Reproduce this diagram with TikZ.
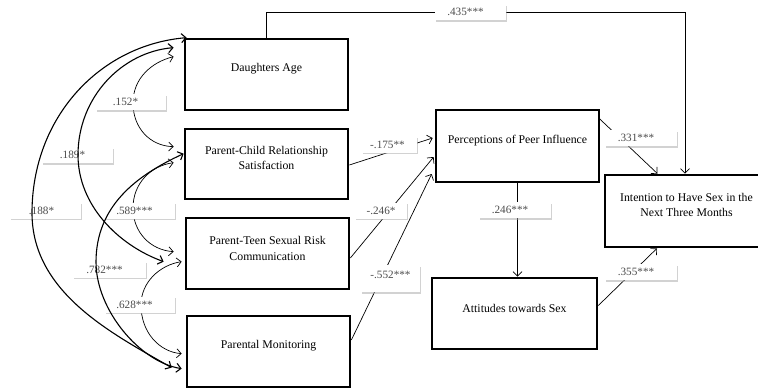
\documentclass[tikz,border=0pt]{standalone}
\usepackage{fontspec}
\setmainfont{Liberation Serif}
\usetikzlibrary{arrows.meta,shadows}
\begin{document}
\begin{tikzpicture}[x=1pt,y=-1pt,
  box/.style={draw, line width=2.7pt, minimum width=163pt, minimum height=71pt, inner sep=0pt},
  btext/.style={font=\fontsize{11.8}{15.5}\selectfont, align=center, inner sep=0pt},
  tip/.tip={Straight Barb[length=4.5pt,width=9pt]},
  conn/.style={line width=0.7pt, -tip},
  corr/.style={line width=0.7pt, tip-tip},
  corrthick/.style={line width=1.1pt, tip-tip},
  lab/.style={fill=white, inner sep=0pt, minimum height=16pt, text=black!70,
    font=\fontsize{11.2}{13}\selectfont,
    drop shadow={shadow xshift=1pt, shadow yshift=-1.5pt, fill=black!35, opacity=0.5}}]
\useasboundingbox (0,0) rectangle (758,391);
\clip (0,0) rectangle (758,391);

% boxes
\node[box] (da) at (266.5,74.5) {};
\node[box, minimum height=70pt] (pc) at (266.5,164) {};
\node[box] (pt) at (267.5,253.5) {};
\node[box] (pm) at (268.5,351.5) {};
\node[box, minimum height=72pt] (pp) at (517.5,146) {};
\node[box, minimum width=165pt] (at) at (514.5,313.5) {};
\node[box, minimum height=72pt] (in) at (686.5,211) {};

\node[btext] (daT) at ([yshift=5.5pt]da.center) {Daughters Age};
\node[btext] (pcT) at ([yshift=6pt]pc.center) {Parent-Child Relationship\\Satisfaction};
\node[btext] (ptT) at ([yshift=5pt]pt.center) {Parent-Teen Sexual Risk\\Communication};
\node[btext] (pmT) at ([yshift=5.5pt]pm.center) {Parental Monitoring};
\node[btext] (ppT) at ([yshift=5pt]pp.center) {Perceptions of Peer Influence};
\node[btext] (atT) at ([yshift=5.5pt]at.center) {Attitudes towards Sex};
\node[btext] (inT) at ([yshift=6pt]in.center) {Intention to Have Sex in the\\Next Three Months};

% directed connectors
\coordinate (topY) at (0,12);
\draw[conn] (da.north) -- (da.north |- topY) -| ([xshift=-1.5pt]in.north);
\draw[conn] ([yshift=-1pt]pc.east) -- ([xshift=-2pt,yshift=8pt]pp.west);
\draw[conn] ([yshift=-4.5pt]pt.east) -- ([xshift=-1pt,yshift=-11pt]pp.west);
\draw[conn] ([yshift=11.5pt]pm.east) -- ([xshift=-3pt,yshift=-28pt]pp.west);
\draw[conn] (pp.south) -- (pp.south |- at.north);
\draw[conn] ([xshift=-2pt,yshift=-9pt]pp.north east) -- ([xshift=-29pt]in.north);
\draw[conn] ([yshift=8pt]at.east) -- ([xshift=-29.5pt]in.south);

% thin correlations
\draw[corr] ([xshift=-10pt,yshift=-19pt]da.north west) .. controls (152,62) and (133,78) .. (133,103)
  .. controls (133,128) and (150,146) .. ([xshift=-10pt,yshift=-19pt]pc.north west);
\draw[corr] ([xshift=-10pt,yshift=-35pt]pc.north west) .. controls (150,166) and (133,184) .. (133,208)
  .. controls (133,232) and (150,250) .. ([xshift=-11pt,yshift=-35pt]pt.north west);
\draw[corr] ([xshift=-3pt,yshift=-45pt]pt.north west) .. controls (160,265) and (141,282) .. (141,305)
  .. controls (141,333) and (160,352) .. ([xshift=-4pt,yshift=-39pt]pm.north west);

% labels
\node[lab, minimum width=71pt] (l435) at (470.5,12) {\hspace*{-10pt}.435***};
\node[lab, minimum width=70pt] (l152) at (131,102) {\hspace*{-11pt}.152*};
\node[lab, minimum width=71pt] (l189) at (77.5,155) {\hspace*{-10pt}.189*};
\node[lab, minimum width=71pt] (l188) at (45.5,210.5) {\hspace*{-8pt}.188*};
\node[lab, minimum width=70pt] (l589) at (140,210.5) {\hspace*{-11pt}.589***};
\node[lab, minimum width=73pt] (l782) at (109.5,269.5) {\hspace*{-10pt}.782***};
\node[lab, minimum width=70pt] (l628) at (140,304.5) {\hspace*{-11pt}.628***};
\node[lab, minimum width=55pt] (l175) at (389.5,144.5) {\hspace*{-4pt}-.175**};
\node[lab, minimum width=52pt] (l246n) at (381,210.5) {-.246*};
\node[lab, minimum width=59pt, minimum height=27pt] (l552) at (390.5,278.5) {\raisebox{3.5pt}[\height][\depth]{-.552***}};
\node[lab, minimum width=72pt] (l331) at (641,138) {\hspace*{-10pt}.331***};
\node[lab, minimum width=72pt] (l246) at (515,210) {\hspace*{-10pt}.246***};
\node[lab, minimum width=72pt] (l355) at (641,272) {\hspace*{-10pt}.355***};

% thick correlations (drawn over labels)
\draw[corrthick] ([xshift=-10pt,yshift=-10pt]da.north west) .. controls (122,52) and (78,97) .. (78,155)
  .. controls (78,205) and (118,245) .. ([xshift=-21pt,yshift=-45pt]pt.north west);
\draw[corrthick] ([xshift=3pt]da.north west) .. controls (100,45) and (32,117) .. (32,213)
  .. controls (32,293) and (113,334) .. ([xshift=-14pt,yshift=-53pt]pm.north west);
\draw[corrthick] ([yshift=-26pt]pc.north west) .. controls (135,176) and (96,207) .. (96,262)
  .. controls (96,310) and (140,362) .. ([xshift=-4pt,yshift=-54pt]pm.north west);
\end{tikzpicture}
\end{document}
